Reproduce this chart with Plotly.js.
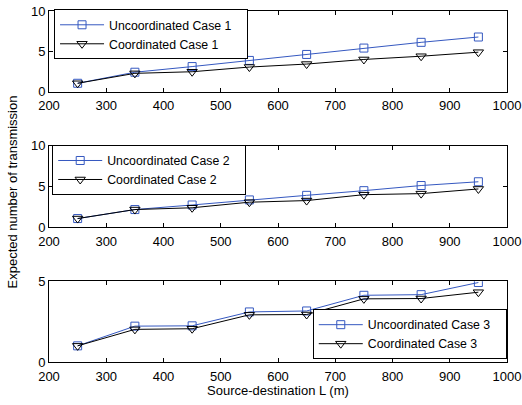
<!DOCTYPE html>
<html>
<head>
<meta charset="utf-8">
<script src="https://cdn.plot.ly/plotly-3.0.1.min.js"></script>
<style>html,body{margin:0;padding:0;background:#fff;}#chart{width:522px;height:405px;}</style>
</head>
<body>
<div id="chart"></div>
<script>
const distances = [250, 350, 450, 550, 650, 750, 850, 950];
const uncoordCase1 = [1.05, 2.42, 3.12, 3.88, 4.62, 5.41, 6.12, 6.78];
const coordCase1   = [1.05, 2.28, 2.48, 3.06, 3.43, 4.00, 4.40, 4.90];
const uncoordCase2 = [1.08, 2.18, 2.74, 3.36, 3.92, 4.49, 5.12, 5.58];
const coordCase2   = [1.08, 2.18, 2.40, 3.08, 3.28, 4.00, 4.13, 4.70];
const uncoordCase3 = [1.00, 2.22, 2.24, 3.10, 3.16, 4.13, 4.17, 4.92];
const coordCase3   = [1.00, 2.02, 2.06, 2.92, 2.94, 3.91, 3.93, 4.32];
const xTicks = [200, 300, 400, 500, 600, 700, 800, 900, 1000];

const BLUE = '#3558c0';
const FONT = 'Liberation Sans, Arial, sans-serif';
const PAD = '\u00a0\u00a0\u00a0';

function pair(u, c, n, ax) {
  const xa = ax === 1 ? 'x' : 'x' + ax;
  const ya = ax === 1 ? 'y' : 'y' + ax;
  const lg = ax === 1 ? 'legend' : 'legend' + ax;
  return [
    {x: distances, y: u, name: 'Uncoordinated Case ' + n + PAD, xaxis: xa, yaxis: ya, legend: lg,
     mode: 'lines+markers', line: {color: BLUE, width: 1},
     marker: {symbol: 'square-open', size: 8, color: BLUE, line: {width: 1, color: BLUE}}},
    {x: distances, y: c, name: 'Coordinated Case ' + n, xaxis: xa, yaxis: ya, legend: lg,
     mode: 'lines+markers', line: {color: '#000', width: 1},
     marker: {symbol: 'triangle-down-open', size: 9, color: '#000', line: {width: 1, color: '#000'}}}
  ];
}

const data = [].concat(
  pair(uncoordCase1, coordCase1, 1, 1),
  pair(uncoordCase2, coordCase2, 2, 2),
  pair(uncoordCase3, coordCase3, 3, 3)
);

function xax(anchor) {
  return {range: [200, 1000], tickvals: xTicks, ticktext: xTicks.map(String),
    ticks: 'inside', ticklen: 4, tickcolor: '#000', mirror: 'ticks', showline: true,
    linecolor: '#000', linewidth: 1, showgrid: false, zeroline: false, anchor: anchor,
    ticklabelstandoff: 2,
    tickfont: {family: FONT, size: 13, color: '#000'}, domain: [0, 1]};
}
function yax(anchor, domain, range, ticks) {
  return {range: range, tickvals: ticks, ticktext: ticks.map(String), domain: domain,
    ticks: 'inside', ticklen: 4, tickcolor: '#000', mirror: 'ticks', showline: true,
    linecolor: '#000', linewidth: 1, showgrid: false, zeroline: false, anchor: anchor,
    tickfont: {family: FONT, size: 13, color: '#000'}};
}

function legend(x, y, xanchor, yanchor) {
  return {x: x, y: y, xanchor: xanchor, yanchor: yanchor, xref: 'paper', yref: 'paper',
    bgcolor: '#fff', bordercolor: '#000', borderwidth: 1, itemwidth: 44,
    font: {family: FONT, size: 12.3, color: '#000'}, tracegroupgap: 0};
}

const layout = {
  width: 522, height: 405,
  margin: {l: 49, r: 15, t: 10, b: 43},
  paper_bgcolor: '#fff', plot_bgcolor: '#fff',
  font: {family: FONT, size: 13, color: '#000'},
  xaxis: xax('y'), yaxis: yax('x', [0.7699, 1], [0, 10], [0, 5, 10]),
  xaxis2: xax('y2'), yaxis2: yax('x2', [0.3835, 0.6165], [0, 10], [0, 5, 10]),
  xaxis3: xax('y3'), yaxis3: yax('x3', [0, 0.2301], [0, 5], [0, 5]),
  legend: legend(0.011, 1.002, 'left', 'top'),
  legend2: legend(0.007, 0.6165, 'left', 'top'),
  legend3: legend(0.9995, 0.008, 'right', 'bottom'),
  showlegend: true,
  annotations: [
    {text: 'Expected number of transmission', textangle: -90, xref: 'paper', yref: 'paper',
     x: -37/458, y: (362 - 192) / 352, xanchor: 'center', yanchor: 'middle', showarrow: false,
     font: {family: FONT, size: 13, color: '#000'}},
    {text: 'Source-destination L (m)', xref: 'paper', yref: 'paper',
     x: 0.5, y: (362 - 391) / 352, xanchor: 'center', yanchor: 'middle', showarrow: false,
     font: {family: FONT, size: 13, color: '#000'}}
  ]
};

Plotly.newPlot('chart', data, layout, {displayModeBar: false, staticPlot: true});
</script>
</body>
</html>
